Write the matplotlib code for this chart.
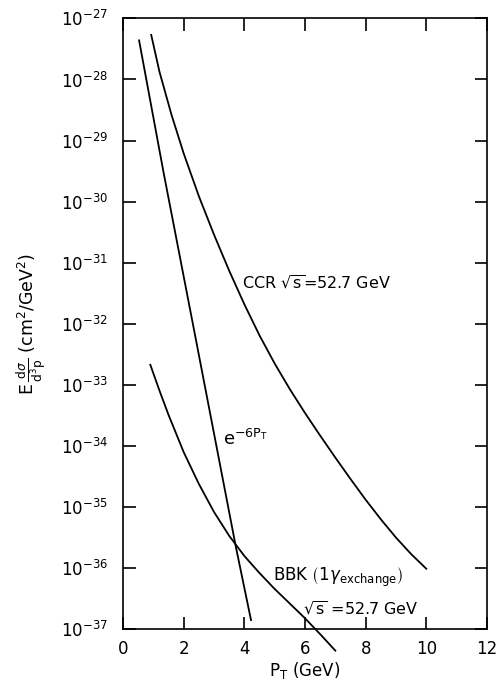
import numpy as np
from matplotlib import pyplot as plt
from matplotlib.ticker import LogLocator, NullLocator, LogFormatterMathtext

# curves (PT in GeV, log10 of cross section)
ccr_pt = [0.93, 1.2, 1.6, 2.0, 2.5, 3.0, 3.5, 4.0, 4.5, 5.0, 5.5, 6.0, 6.5,
          7.0, 7.5, 8.0, 8.5, 9.0, 9.5, 10.0]
ccr_log = [-27.27, -27.87, -28.58, -29.21, -29.91, -30.54, -31.13, -31.68,
           -32.19, -32.65, -33.07, -33.46, -33.83, -34.19, -34.54, -34.88,
           -35.20, -35.50, -35.77, -36.01]

exp_pt = [0.53, 1.34, 2.40, 3.72, 4.22]
exp_log = [-27.36, -29.53, -32.25, -35.65, -36.85]

bbk_pt = [0.90, 1.2, 1.5, 2.0, 2.5, 3.0, 3.5, 4.0, 4.5, 5.0, 5.5, 6.0, 6.5, 7.0]
bbk_log = [-32.67, -33.09, -33.49, -34.10, -34.62, -35.08, -35.47, -35.80,
           -36.08, -36.34, -36.58, -36.82, -37.08, -37.35]

xticks = [0, 2, 4, 6, 8, 10, 12]

plt.rcParams['font.family'] = 'DejaVu Sans'
plt.rcParams['mathtext.fontset'] = 'dejavusans'

fig = plt.figure(figsize=(4.97, 6.86), dpi=100)
ax = fig.add_axes([0.2475, 0.0827, 0.7324, 0.8905])

lw = 1.3
ax.plot(ccr_pt, 10.0 ** np.array(ccr_log), color='black', lw=lw)
ax.plot(exp_pt, 10.0 ** np.array(exp_log), color='black', lw=lw)
# BBK curve runs below the axis in the original
ax.plot(bbk_pt, 10.0 ** np.array(bbk_log), color='black', lw=lw, clip_on=False)

ax.set_yscale('log')
ax.set_xlim(0, 12)
ax.set_ylim(1e-37, 1e-27)
ax.set_xticks(xticks)
ax.yaxis.set_major_locator(LogLocator(base=10, numticks=20))
ax.yaxis.set_major_formatter(LogFormatterMathtext())
ax.yaxis.set_minor_locator(NullLocator())

ax.tick_params(which='major', direction='in', length=9, width=1.2,
               top=True, right=True, labelsize=12)
ax.tick_params(axis='y', pad=11)
ax.tick_params(axis='x', pad=8)
for s in ax.spines.values():
    s.set_linewidth(1.2)

ax.set_xlabel(r'P$_\mathrm{T}$ (GeV)', fontsize=12, labelpad=1)
ax.set_ylabel(r'$\mathrm{E}\,\frac{\mathrm{d}\sigma}{\mathrm{d}^3\mathrm{p}}$'
              r' (cm$^2$/GeV$^2$)', fontsize=12.5, labelpad=8)

ax.text(3.91, 10 ** -31.33, r'CCR $\sqrt{\mathrm{s}}$=52.7 GeV', fontsize=11.5,
        ha='left', va='center')
ax.text(3.3, 10 ** -33.88, r'$\mathrm{e}^{-6\mathrm{P}_\mathrm{T}}$', fontsize=13,
        ha='left', va='center')
ax.text(4.95, 10 ** -36.15, r'BBK $\left(1\gamma_{\mathrm{exchange}}\right)$',
        fontsize=12, ha='left', va='center')
ax.text(5.93, 10 ** -36.67, r'$\sqrt{\mathrm{s}}$ =52.7 GeV', fontsize=11.5,
        ha='left', va='center')

fig.savefig('out.png', dpi=100)
